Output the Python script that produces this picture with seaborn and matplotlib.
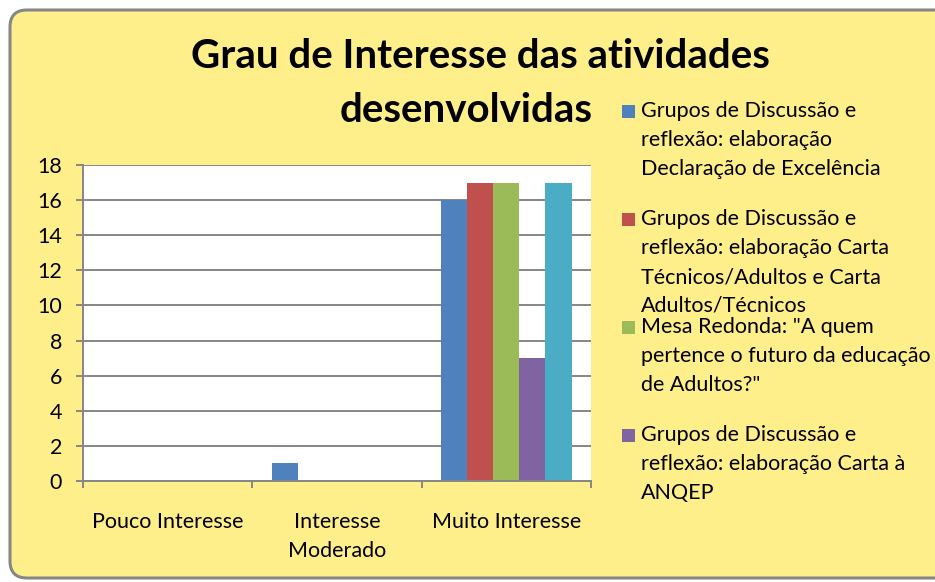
import matplotlib
matplotlib.use("Agg")
import matplotlib.pyplot as plt
import matplotlib.transforms as mtransforms
from matplotlib.patches import FancyBboxPatch, Rectangle
import seaborn as sns
import pandas as pd

# ---------------- data ----------------
categories = ["Pouco Interesse", "Interesse Moderado", "Muito Interesse"]
category_labels = ["Pouco Interesse", "Interesse\nModerado", "Muito Interesse"]
series = [
    "Grupos de Discussão e reflexão: elaboração Declaração de Excelência",
    "Grupos de Discussão e reflexão: elaboração Carta Técnicos/Adultos e Carta Adultos/Técnicos",
    'Mesa Redonda: "A quem pertence o futuro da educação de Adultos?"',
    "Grupos de Discussão e reflexão: elaboração Carta à ANQEP",
    "Série 5",
]
legend_lines = [
    ["Grupos de Discussão e", "reflexão: elaboração", "Declaração de Excelência"],
    ["Grupos de Discussão e", "reflexão: elaboração Carta", "Técnicos/Adultos e Carta", "Adultos/Técnicos"],
    ["Mesa Redonda: \"A quem", "pertence o futuro da educação", "de Adultos?\""],
    ["Grupos de Discussão e", "reflexão: elaboração Carta à", "ANQEP"],
]
s1 = [0, 1, 16]
s2 = [0, 0, 17]
s3 = [0, 0, 17]
s4 = [0, 0, 7]
s5 = [0, 0, 17]
series_values = [s1, s2, s3, s4, s5]
colors = ["#4F81BD", "#C0504D", "#9BBB59", "#8064A2", "#4BACC6"]
y_ticks = [0, 2, 4, 6, 8, 10, 12, 14, 16, 18]
title_lines = ["Grau de Interesse das atividades", "desenvolvidas"]

rows = []
for name, vals in zip(series, series_values):
    for cat, v in zip(categories, vals):
        rows.append({"categoria": cat, "serie": name, "valor": v})
df = pd.DataFrame(rows)

# ---------------- style ----------------
sns.set_theme(style="white")
plt.rcParams["font.family"] = ["Lato", "DejaVu Sans"]

W, H = 935, 582
fs = 15.5
fig = plt.figure(figsize=(W / 100, H / 100), dpi=100)
fig.patch.set_facecolor("white")
ident = mtransforms.IdentityTransform()

bg = FancyBboxPatch((10, H - 578), 960, 568,
                    boxstyle="round,pad=0,rounding_size=17",
                    facecolor="#FFEF8A", edgecolor="#868686", linewidth=2.2,
                    transform=ident, zorder=0)
fig.add_artist(bg)

ax = fig.add_axes([83 / W, 1 - 481 / H, (591 - 83) / W, (481 - 165) / H])
ax.set_facecolor("white")
sns.barplot(data=df, x="categoria", y="valor", hue="serie", order=categories,
            hue_order=series, palette=colors, saturation=1, width=0.77,
            ax=ax, legend=False, linewidth=0)

grid_c = "#868686"
ax.set_xlim(-0.5, 2.5)
ax.set_ylim(0, 18)
ax.set_yticks(y_ticks)
ax.set_yticklabels([str(t) for t in y_ticks])
ax.yaxis.grid(True, color=grid_c, linewidth=1.4)
ax.xaxis.grid(False)
ax.set_axisbelow(True)
for s in ["top", "right"]:
    ax.spines[s].set_visible(False)
for s in ["left", "bottom"]:
    ax.spines[s].set_color(grid_c)
    ax.spines[s].set_linewidth(1.4)
ax.tick_params(axis="y", length=5, width=1.4, color=grid_c, pad=10,
               labelsize=fs, labelcolor="black", left=True)
ax.set_xticks([0, 1, 2])
ax.set_xticklabels(category_labels, fontsize=fs, color="black", linespacing=1.6)
ax.set_xticks([-0.5, 0.5, 1.5, 2.5], minor=True)
ax.tick_params(axis="x", which="major", length=0, pad=22)
ax.tick_params(axis="x", which="minor", length=5, width=1.4, color=grid_c, bottom=True)
ax.set_xlabel("")
ax.set_ylabel("")

# title
fig.text(480 / W, 1 - 68 / H, title_lines[0], ha="center", va="baseline",
         fontsize=29, fontweight="bold", color="black")
fig.text(466 / W, 1 - 122 / H, title_lines[1], ha="center", va="baseline",
         fontsize=29, fontweight="bold", color="black")

# legend (first four entries visible, as in the original)
first_baselines = [117, 225, 333, 441]
line_step = 29
for i, lines in enumerate(legend_lines):
    b0 = first_baselines[i]
    fig.add_artist(Rectangle((622, H - b0 - 1), 13, 13, facecolor=colors[i],
                             edgecolor="none", transform=ident))
    for j, ln in enumerate(lines):
        fig.text(641 / W, 1 - (b0 + j * line_step) / H, ln, ha="left",
                 va="baseline", fontsize=fs, color="black")

fig.savefig("out.png", dpi=100)
